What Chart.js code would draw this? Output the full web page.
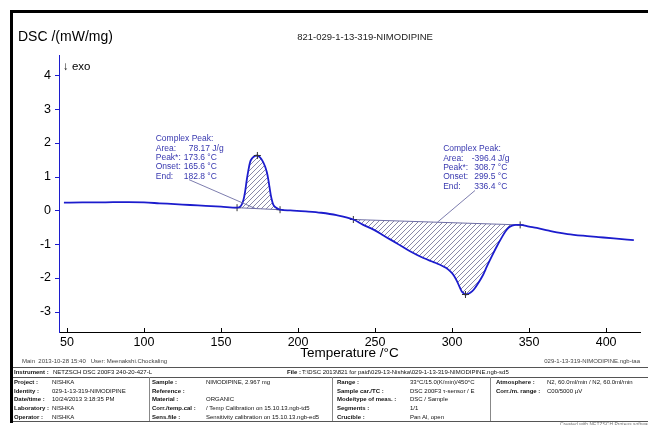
<!DOCTYPE html>
<html><head><meta charset="utf-8">
<script src="https://cdn.jsdelivr.net/npm/chart.js@4/dist/chart.umd.min.js"></script>
<style>
html,body{margin:0;padding:0;background:#fff;}
#wrap{position:relative;width:648px;height:425px;overflow:hidden;font-family:"Liberation Sans",Arial,sans-serif;}
#c{position:absolute;left:0;top:0;}
.fr{position:absolute;background:#000;}
.t{position:absolute;white-space:nowrap;font-size:6px;line-height:7px;color:#111;}
.b{font-weight:bold;}
.hl{position:absolute;height:1px;background:#555;}
.vl{position:absolute;width:1px;background:#888;}
</style></head>
<body>
<div id="wrap">
<canvas id="c" width="648" height="425"></canvas>
<div class="fr" style="left:11px;top:10px;width:637px;height:3px;"></div>
<div class="fr" style="left:10px;top:10px;width:3px;height:413px;"></div>

<div class="t" style="left:22px;top:358px;color:#444;">Main&nbsp;&nbsp;2013-10-28 15:40&nbsp;&nbsp;&nbsp;User: Meenakshi.Chockaling</div>
<div class="t" style="right:8px;top:358px;color:#444;">029-1-13-319-NIMODIPINE.ngb-taa</div>

<div class="hl" style="left:13px;width:635px;top:367px;"></div>
<div class="hl" style="left:13px;width:635px;top:377px;"></div>
<div class="hl" style="left:13px;width:635px;top:421px;"></div>
<div class="vl" style="left:149px;top:377px;height:44px;"></div>
<div class="vl" style="left:332px;top:377px;height:44px;"></div>
<div class="vl" style="left:490px;top:377px;height:44px;"></div>

<div class="t b" style="left:14px;top:369px;">Instrument :</div>
<div class="t" style="left:53px;top:369px;">NETZSCH DSC 200F3 240-20-427-L</div>
<div class="t b" style="left:287px;top:369px;">File :</div>
<div class="t" style="left:302px;top:369px;">T:\DSC 2013\821 for paid\029-13-Nishka\029-1-13-319-NIMODIPINE.ngb-sd5</div>

<div class="t b" style="left:14px;top:379px;">Project :</div>
<div class="t" style="left:52px;top:379px;">NISHKA</div>
<div class="t b" style="left:14px;top:388px;">Identity :</div>
<div class="t" style="left:52px;top:388px;">029-1-13-319-NIMODIPINE</div>
<div class="t b" style="left:14px;top:396px;">Date/time :</div>
<div class="t" style="left:52px;top:396px;">10/24/2013 3:18:35 PM</div>
<div class="t b" style="left:14px;top:405px;">Laboratory :</div>
<div class="t" style="left:52px;top:405px;">NISHKA</div>
<div class="t b" style="left:14px;top:414px;">Operator :</div>
<div class="t" style="left:52px;top:414px;">NISHKA</div>

<div class="t b" style="left:152px;top:379px;">Sample :</div>
<div class="t" style="left:206px;top:379px;">NIMODIPINE, 2.967 mg</div>
<div class="t b" style="left:152px;top:388px;">Reference :</div>
<div class="t b" style="left:152px;top:396px;">Material :</div>
<div class="t" style="left:206px;top:396px;">ORGANIC</div>
<div class="t b" style="left:152px;top:405px;">Corr./temp.cal :</div>
<div class="t" style="left:206px;top:405px;">/ Temp Calibration on 15.10.13.ngb-td5</div>
<div class="t b" style="left:152px;top:414px;">Sens.file :</div>
<div class="t" style="left:206px;top:414px;">Sensitivity calibration on 15.10.13.ngb-ed5</div>

<div class="t b" style="left:337px;top:379px;">Range :</div>
<div class="t" style="left:410px;top:379px;">33°C/15.0(K/min)/450°C</div>
<div class="t b" style="left:337px;top:388px;">Sample car./TC :</div>
<div class="t" style="left:410px;top:388px;">DSC 200F3 τ-sensor / E</div>
<div class="t b" style="left:337px;top:396px;">Mode/type of meas. :</div>
<div class="t" style="left:410px;top:396px;">DSC / Sample</div>
<div class="t b" style="left:337px;top:405px;">Segments :</div>
<div class="t" style="left:410px;top:405px;">1/1</div>
<div class="t b" style="left:337px;top:414px;">Crucible :</div>
<div class="t" style="left:410px;top:414px;">Pan Al, open</div>

<div class="t b" style="left:496px;top:379px;">Atmosphere :</div>
<div class="t" style="left:547px;top:379px;">N2, 60.0ml/min / N2, 60.0ml/min</div>
<div class="t b" style="left:496px;top:388px;">Corr./m. range :</div>
<div class="t" style="left:547px;top:388px;">C00/5000 µV</div>
<div class="t" style="left:560px;top:421px;font-size:5px;color:#777;">Created with NETZSCH Proteus software</div>
</div>

<script>
// ---- data ----
const temperature = [48, 60, 75, 90, 100, 110, 120, 130, 140, 150, 160.4, 163, 164.5, 165.6, 166.7, 167.8, 168.8, 170.5, 172.1, 173.6, 175.3, 177, 178.6, 179.8, 180.7, 181.6, 182.3, 183.2, 184, 185.1, 186.5, 188.3, 195, 205, 215, 225, 235.9, 242, 249, 256, 264, 272.7, 281.4, 288, 292.2, 296, 298.7, 301, 303, 305, 306.3, 307.6, 308.7, 310, 312, 314, 317, 320, 322.6, 326, 329, 332, 334.5, 337, 339, 341.5, 344.2, 350, 355, 362, 368, 375, 385, 395, 405, 418];
const dsc = [0.23, 0.235, 0.24, 0.245, 0.235, 0.21, 0.185, 0.16, 0.135, 0.11, 0.08, 0.14, 0.3, 0.55, 0.9, 1.2, 1.42, 1.56, 1.615, 1.625, 1.57, 1.46, 1.3, 1.12, 0.91, 0.65, 0.45, 0.27, 0.16, 0.1, 0.06, 0.02, 0.0, -0.03, -0.07, -0.14, -0.27, -0.42, -0.57, -0.76, -0.97, -1.21, -1.41, -1.53, -1.61, -1.70, -1.80, -1.92, -2.08, -2.28, -2.40, -2.46, -2.49, -2.48, -2.43, -2.35, -2.15, -1.92, -1.66, -1.34, -1.07, -0.82, -0.63, -0.50, -0.45, -0.43, -0.43, -0.48, -0.52, -0.59, -0.65, -0.70, -0.75, -0.79, -0.83, -0.88];
const baseline1T = [160.4, 188.3];
const baseline1V = [0.08, 0.02];
const baseline2T = [235.9, 344.2];
const baseline2V = [-0.27, -0.43];
const peakTemp = [173.6, 308.7];
const peakValue = [1.625, -2.49];
const peakArea = [78.17, -396.4];
const onsetTemp = [165.6, 299.5];
const endTemp = [182.8, 336.4];
const xTickLabels = [50, 100, 150, 200, 250, 300, 350, 400];
const yTickLabels = [-3, -2, -1, 0, 1, 2, 3, 4];
const chartTitle = '821-029-1-13-319-NIMODIPINE';
const yTitle = 'DSC /(mW/mg)';
const xTitle = 'Temperature /°C';

// ---- styles ----
const FONT = '"Liberation Sans", Arial, sans-serif';
const BLUE = 'rgb(28,28,205)';
const BASE = 'rgb(110,110,165)';
const ANN = 'rgb(55,55,175)';

function hatchPattern() {
  const s = 5, c = document.createElement('canvas');
  c.width = s; c.height = s;
  const g = c.getContext('2d');
  g.strokeStyle = 'rgba(80,80,125,0.9)';
  g.lineWidth = 0.75;
  g.beginPath();
  g.moveTo(0, s); g.lineTo(s, 0);
  g.moveTo(-1, 1); g.lineTo(1, -1);
  g.moveTo(s - 1, s + 1); g.lineTo(s + 1, s - 1);
  g.stroke();
  return g.createPattern(c, 'repeat');
}
const pattern = hatchPattern();

const curve = temperature.map((t, i) => ({x: t, y: dsc[i]}));
const segment = (b) => curve.filter(p => p.x >= b[0] && p.x <= b[1]);
const basePts = (T, V) => T.map((t, i) => ({x: t, y: V[i]}));

const annotations = [
  {at: [107.6, 2.12], valDx: 28, areaDx: 33, from: [129.2, 0.91], to: [172.1, 0.06]},
  {at: [294.2, 1.82], valDx: 31, areaDx: 28.5, from: [314.9, 0.59], to: [290.5, -0.35]}
];

const drawPlugin = {
  id: 'drawExtras',
  afterDraw(chart) {
    const {ctx, chartArea: a} = chart;
    const xs = chart.scales.x, ys = chart.scales.y;
    ctx.save();
    ctx.lineWidth = 1;
    ctx.strokeStyle = '#000';
    ctx.beginPath();
    xs.ticks.forEach(t => {
      const px = Math.round(xs.getPixelForValue(t.value)) + 0.5;
      const len = (Math.abs(t.value % 50) < 1e-6) ? 4 : 3;
      ctx.moveTo(px, a.bottom); ctx.lineTo(px, a.bottom - len);
    });
    ctx.stroke();
    ctx.strokeStyle = BLUE;
    ctx.beginPath();
    ys.ticks.forEach(t => {
      const py = Math.round(ys.getPixelForValue(t.value)) + 0.5;
      const major = Math.abs(t.value - Math.round(t.value)) < 1e-6;
      ctx.moveTo(a.left, py); ctx.lineTo(a.left - (major ? 4 : 2), py);
    });
    ctx.stroke();

    ctx.fillStyle = '#000';
    ctx.textBaseline = 'middle';
    ctx.textAlign = 'left';
    ctx.font = '14px ' + FONT;
    ctx.fillText(yTitle, 18, 37);
    ctx.font = '9.5px ' + FONT;
    ctx.textAlign = 'center';
    ctx.fillStyle = '#222';
    ctx.fillText(chartTitle, 365, 37);
    ctx.textAlign = 'left';
    ctx.fillStyle = '#000';
    ctx.font = '11.5px ' + FONT;
    ctx.fillText('\u2193 exo', 63, 67);

    annotations.forEach((an, k) => {
      ctx.strokeStyle = BASE;
      ctx.lineWidth = 0.9;
      ctx.beginPath();
      ctx.moveTo(xs.getPixelForValue(an.from[0]), ys.getPixelForValue(an.from[1]));
      ctx.lineTo(xs.getPixelForValue(an.to[0]), ys.getPixelForValue(an.to[1]));
      ctx.stroke();
      const x0 = xs.getPixelForValue(an.at[0]);
      const y0 = ys.getPixelForValue(an.at[1]);
      const lh = 9.4;
      ctx.fillStyle = ANN;
      ctx.font = '8.5px ' + FONT;
      ctx.fillText('Complex Peak:', x0, y0);
      const rows = [
        ['Area:', peakArea[k] + ' J/g', an.areaDx],
        ['Peak*:', peakTemp[k].toFixed(1) + ' \u00b0C', an.valDx],
        ['Onset:', onsetTemp[k].toFixed(1) + ' \u00b0C', an.valDx],
        ['End:', endTemp[k].toFixed(1) + ' \u00b0C', an.valDx]
      ];
      rows.forEach((r, i) => {
        ctx.fillText(r[0], x0, y0 + (i + 1) * lh);
        ctx.fillText(r[1], x0 + r[2], y0 + (i + 1) * lh);
      });
    });
    ctx.restore();
  }
};

new Chart(document.getElementById('c'), {
  type: 'line',
  data: {
    datasets: [
      {data: segment(baseline1T), fill: 1, backgroundColor: pattern, borderWidth: 0, pointRadius: 0, cubicInterpolationMode: 'monotone', order: 5},
      {data: basePts(baseline1T, baseline1V), fill: false, borderColor: BASE, borderWidth: 1, pointStyle: 'cross', pointRadius: 3.5, pointBorderColor: '#333', pointBorderWidth: 1, order: 3},
      {data: segment(baseline2T), fill: 3, backgroundColor: pattern, borderWidth: 0, pointRadius: 0, cubicInterpolationMode: 'monotone', order: 5},
      {data: basePts(baseline2T, baseline2V), fill: false, borderColor: BASE, borderWidth: 1, pointStyle: 'cross', pointRadius: 3.5, pointBorderColor: '#333', pointBorderWidth: 1, order: 3},
      {data: curve, fill: false, borderColor: BLUE, borderWidth: 1.8, pointRadius: 0, cubicInterpolationMode: 'monotone', order: 1},
      {data: peakTemp.map((t, i) => ({x: t, y: peakValue[i]})), showLine: false, pointStyle: 'cross', pointRadius: 3.5, pointBorderColor: '#333', pointBorderWidth: 1, order: 0}
    ]
  },
  options: {
    responsive: false,
    animation: false,
    devicePixelRatio: 1,
    events: [],
    layout: {padding: {left: 0, top: 55, right: 8, bottom: 63.6}},
    plugins: {legend: {display: false}, tooltip: {enabled: false}, title: {display: false}},
    scales: {
      x: {
        type: 'linear', min: 44.8, max: 422, position: 'bottom',
        afterFit(s) { s.height = 29.4; },
        grid: {display: false, drawTicks: false},
        border: {display: true, color: '#000', width: 1},
        ticks: {
          stepSize: 10, includeBounds: false, autoSkip: false, maxRotation: 0, padding: 3,
          color: '#000', font: {size: 12.5, family: FONT},
          callback: (v) => xTickLabels.includes(v) ? String(v) : null
        },
        title: {display: true, text: xTitle, color: '#000', font: {size: 13.5, family: FONT}, padding: 0}
      },
      y: {
        type: 'linear', min: -3.6, max: 4.6, position: 'left',
        afterFit(s) { s.width = 59; },
        grid: {display: false, drawTicks: false},
        border: {display: true, color: BLUE, width: 1},
        ticks: {
          stepSize: 0.2, includeBounds: false, autoSkip: false, padding: 8,
          color: '#000', font: {size: 12.5, family: FONT},
          callback: (v) => {
            const r = Math.round(v);
            return (Math.abs(v - r) < 1e-6 && yTickLabels.includes(r)) ? String(r) : null;
          }
        }
      }
    }
  },
  plugins: [drawPlugin]
});
</script>
</body></html>
